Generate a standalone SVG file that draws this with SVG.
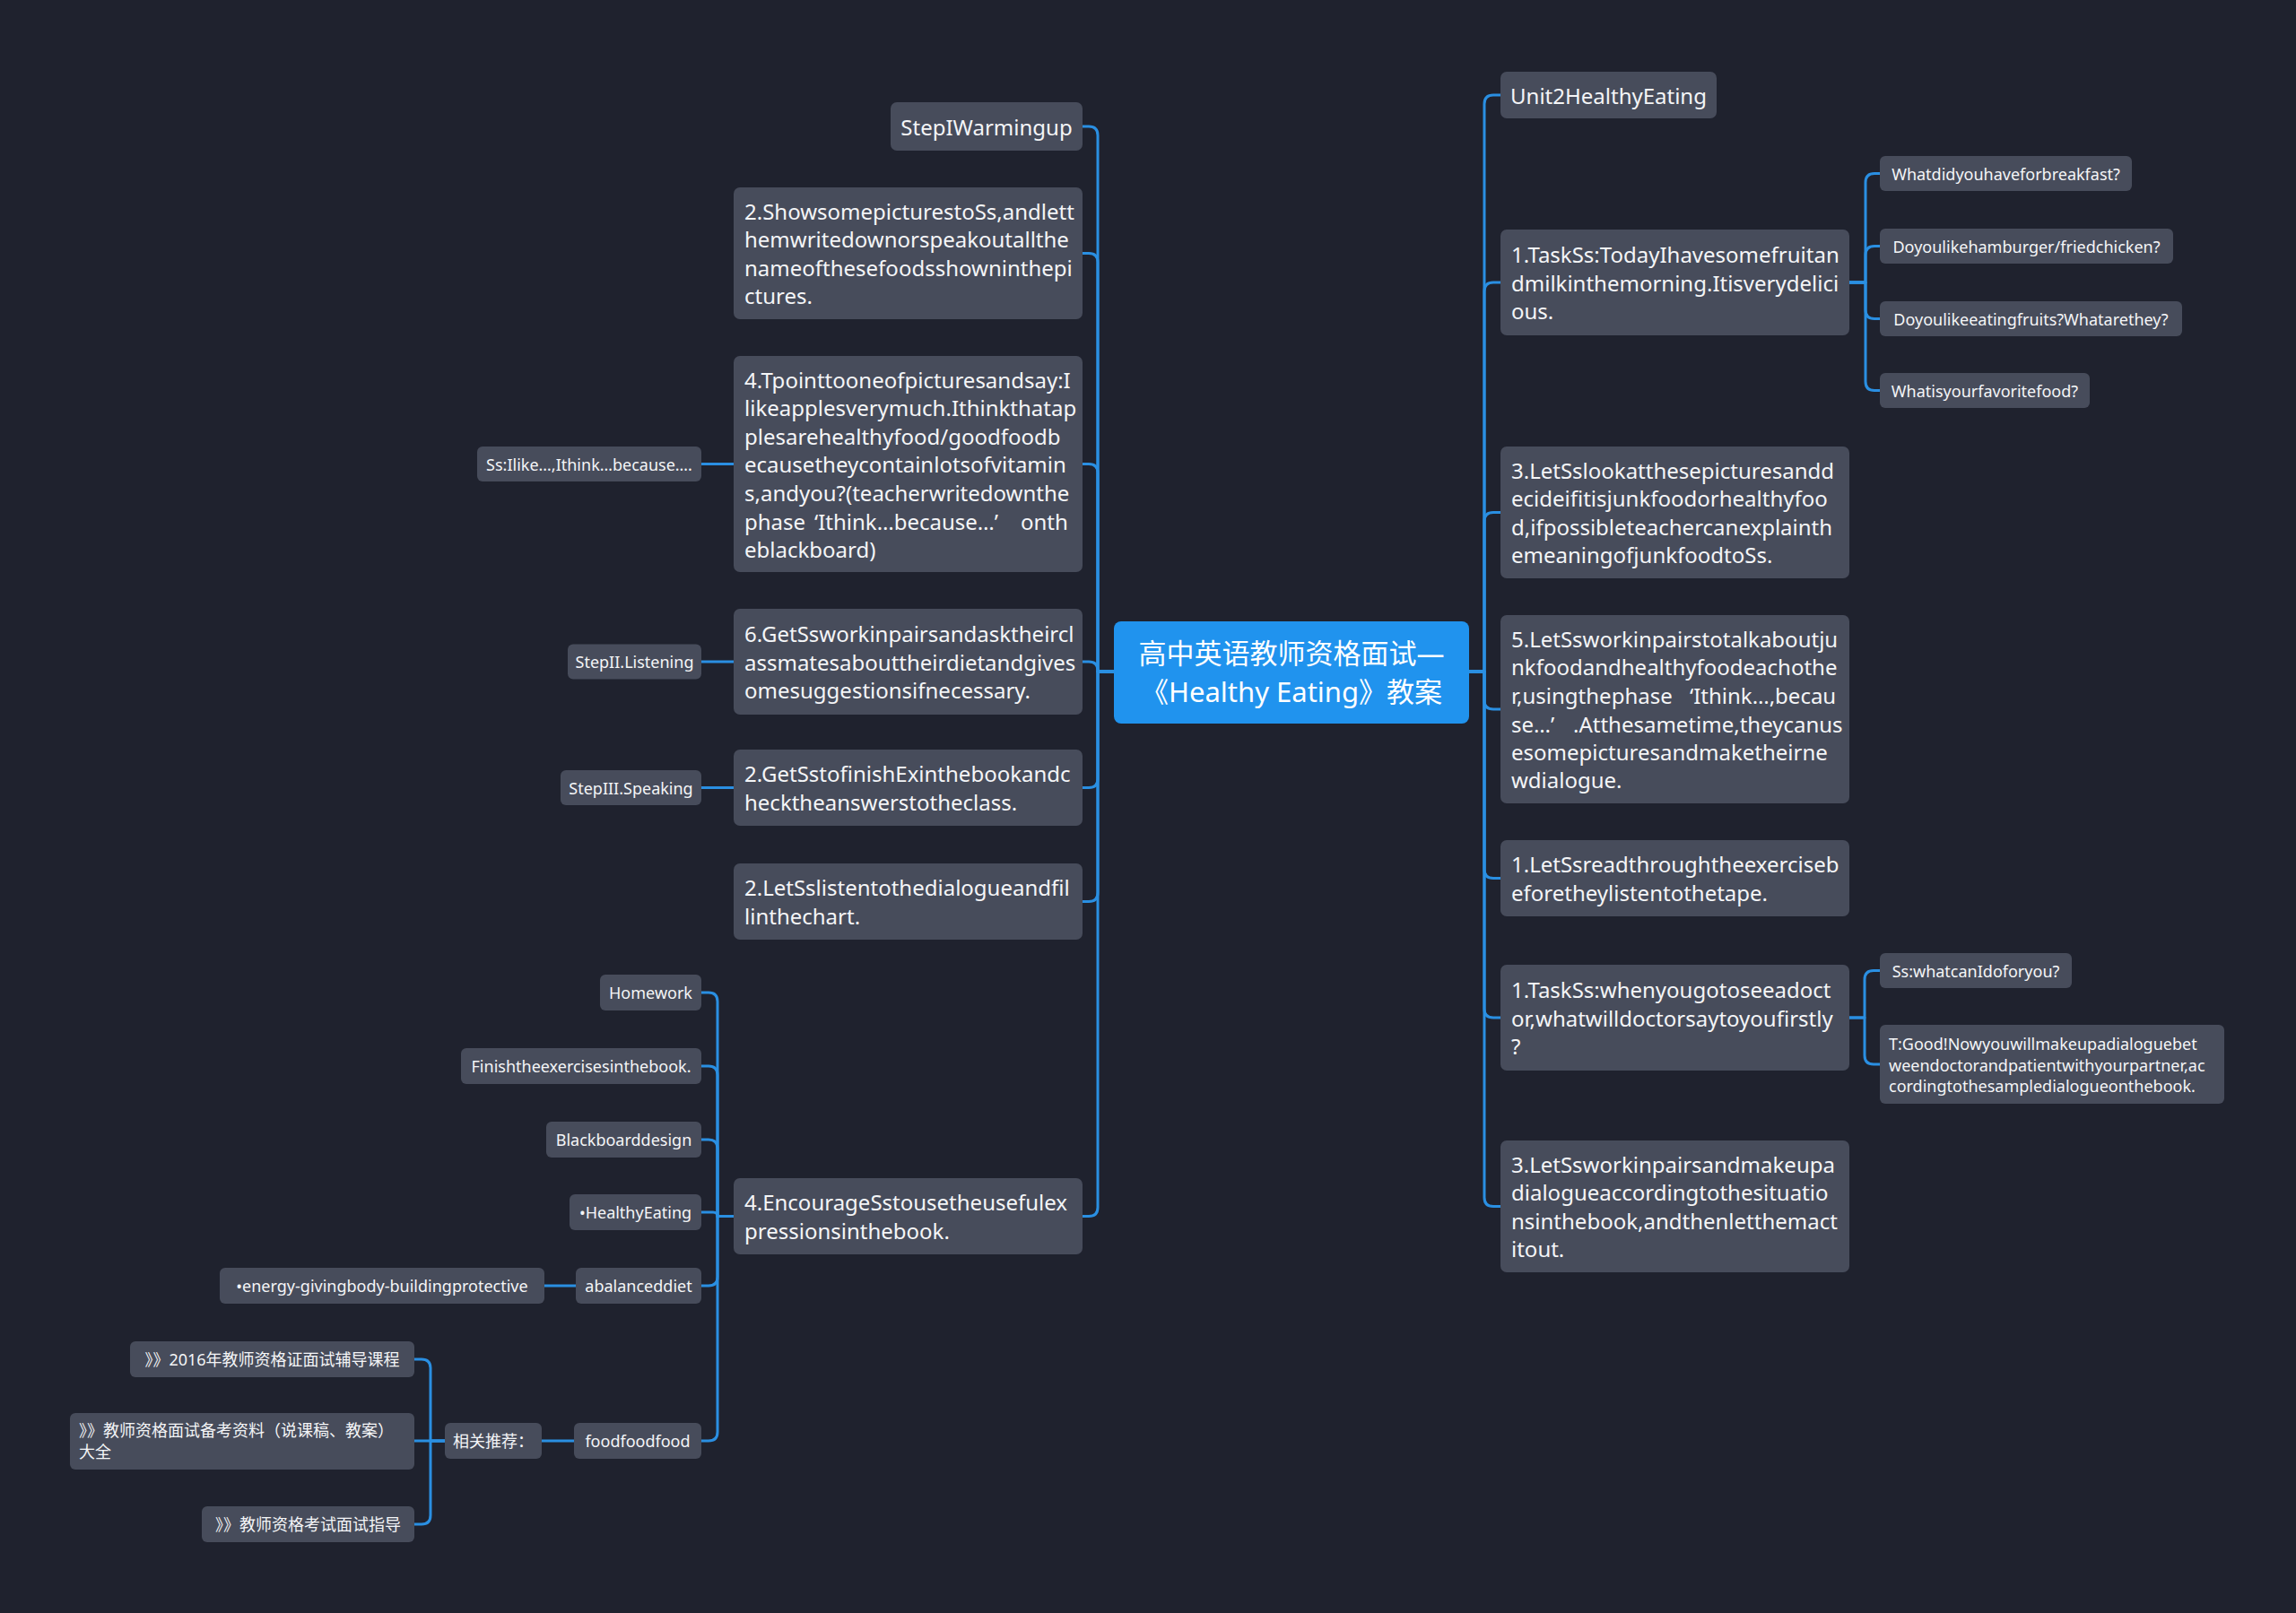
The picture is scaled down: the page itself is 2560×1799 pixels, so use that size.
<svg xmlns="http://www.w3.org/2000/svg" width="2560" height="1799" viewBox="0 0 2560 1799">
<style>
text{font-family:"Noto Sans","Noto Sans CJK SC",sans-serif;fill:#f4f5f7;dominant-baseline:central}
.n{fill:#474c5b}
.b{font-size:24px}
.s{font-size:18px}
.m{text-anchor:middle}
.c{fill:none;stroke:#2a8fe2;stroke-width:3;stroke-linecap:round;stroke-linejoin:round}
.root{fill:#2093ee}
.rt{font-size:31px;text-anchor:middle;fill:#ffffff}
</style>
<rect width="2560" height="1799" fill="#1f222e"/>
<g id="connectors">
<path class="c" d="M1242,749 H1224 V151 Q1224,141 1214,141 H1207"/>
<path class="c" d="M1242,749 H1224 V292.5 Q1224,282.5 1214,282.5 H1207"/>
<path class="c" d="M1242,749 H1224 V527.5 Q1224,517.5 1214,517.5 H1207"/>
<path class="c" d="M1242,749 H1224 V748 Q1224,738 1214,738 H1207"/>
<path class="c" d="M1242,749 H1224 V868.5 Q1224,878.5 1214,878.5 H1207"/>
<path class="c" d="M1242,749 H1224 V995.5 Q1224,1005.5 1214,1005.5 H1207"/>
<path class="c" d="M1242,749 H1224 V1346.5 Q1224,1356.5 1214,1356.5 H1207"/>
<path class="c" d="M1638,749 H1655 V116 Q1655,106 1665,106 H1673"/>
<path class="c" d="M1638,749 H1655 V325 Q1655,315 1665,315 H1673"/>
<path class="c" d="M1638,749 H1655 V581.5 Q1655,571.5 1665,571.5 H1673"/>
<path class="c" d="M1638,749 H1655 V781 Q1655,791 1665,791 H1673"/>
<path class="c" d="M1638,749 H1655 V969.5 Q1655,979.5 1665,979.5 H1673"/>
<path class="c" d="M1638,749 H1655 V1125 Q1655,1135 1665,1135 H1673"/>
<path class="c" d="M1638,749 H1655 V1335.5 Q1655,1345.5 1665,1345.5 H1673"/>
<path class="c" d="M2062,315 H2080 V203.5 Q2080,193.5 2090,193.5 H2096"/>
<path class="c" d="M2062,315 H2080 V284.5 Q2080,274.5 2090,274.5 H2096"/>
<path class="c" d="M2062,315 H2080 V345.5 Q2080,355.5 2090,355.5 H2096"/>
<path class="c" d="M2062,315 H2080 V425.5 Q2080,435.5 2090,435.5 H2096"/>
<path class="c" d="M2062,1135 H2079 V1092.5 Q2079,1082.5 2089,1082.5 H2096"/>
<path class="c" d="M2062,1135 H2079 V1177 Q2079,1187 2089,1187 H2096"/>
<path class="c" d="M818,517.5 H782"/>
<path class="c" d="M818,738 H782"/>
<path class="c" d="M818,878.5 H782"/>
<path class="c" d="M818,1356.5 H800 V1117 Q800,1107 790,1107 H782"/>
<path class="c" d="M818,1356.5 H800 V1199 Q800,1189 790,1189 H782"/>
<path class="c" d="M818,1356.5 H800 V1281 Q800,1271 790,1271 H782"/>
<path class="c" d="M818,1356.5 H800 Q800,1352 795,1352 H782"/>
<path class="c" d="M818,1356.5 H800 V1424 Q800,1434 790,1434 H782"/>
<path class="c" d="M818,1356.5 H800 V1597 Q800,1607 790,1607 H782"/>
<path class="c" d="M642,1434 H607"/>
<path class="c" d="M640,1607 H604"/>
<path class="c" d="M496,1607 H480 V1526 Q480,1516 470,1516 H462"/>
<path class="c" d="M496,1607 H462"/>
<path class="c" d="M496,1607 H480 V1690 Q480,1700 470,1700 H462"/>
</g>
<g id="root">
<rect class="root" x="1242" y="693" width="396" height="114" rx="8"/>
<text class="rt" x="1440" y="728">高中英语教师资格面试—</text>
<text class="rt" x="1440" y="771">《Healthy Eating》教案</text>
</g>
<g id="n-step1">
<rect class="n" x="993" y="114" width="214" height="54" rx="7"/>
<text class="b m" x="1100" y="141">StepIWarmingup</text>
</g>
<g id="n-show">
<rect class="n" x="818" y="209" width="389" height="147" rx="7"/>
<text class="b" x="830" y="235.25">2.ShowsomepicturestoSs,andlett</text>
<text class="b" x="830" y="266.75">hemwritedownorspeakoutallthe</text>
<text class="b" x="830" y="298.25">nameofthesefoodsshowninthepi</text>
<text class="b" x="830" y="329.75">ctures.</text>
</g>
<g id="n-tpoint">
<rect class="n" x="818" y="397" width="389" height="241" rx="7"/>
<text class="b" x="830" y="423">4.Tpointtooneofpicturesandsay:I</text>
<text class="b" x="830" y="454.5">likeapplesverymuch.Ithinkthatap</text>
<text class="b" x="830" y="486">plesarehealthyfood/goodfoodb</text>
<text class="b" x="830" y="517.5">ecausetheycontainlotsofvitamin</text>
<text class="b" x="830" y="549">s,andyou?(teacherwritedownthe</text>
<text class="b" y="580.5"><tspan x="830">phase</tspan><tspan x="908">‘Ithink…because…’</tspan><tspan x="1138">onth</tspan></text>
<text class="b" x="830" y="612">eblackboard)</text>
</g>
<g id="n-ssilike">
<rect class="n" x="532" y="498" width="250" height="39" rx="6"/>
<text class="s m" x="657" y="517.5">Ss:Ilike…,Ithink…because….</text>
</g>
<g id="n-getss">
<rect class="n" x="818" y="679" width="389" height="118" rx="7"/>
<text class="b" x="830" y="706.5">6.GetSsworkinpairsandasktheircl</text>
<text class="b" x="830" y="738">assmatesabouttheirdietandgives</text>
<text class="b" x="830" y="769.5">omesuggestionsifnecessary.</text>
</g>
<g id="n-listening">
<rect class="n" x="633" y="718.5" width="149" height="39" rx="6"/>
<text class="s m" x="707.5" y="738">StepII.Listening</text>
</g>
<g id="n-finishex">
<rect class="n" x="818" y="836" width="389" height="85" rx="7"/>
<text class="b" x="830" y="862.75">2.GetSstofinishExinthebookandc</text>
<text class="b" x="830" y="894.25">hecktheanswerstotheclass.</text>
</g>
<g id="n-speaking">
<rect class="n" x="625" y="859" width="157" height="39" rx="6"/>
<text class="s m" x="703.5" y="878.5">StepIII.Speaking</text>
</g>
<g id="n-listen">
<rect class="n" x="818" y="963" width="389" height="85" rx="7"/>
<text class="b" x="830" y="989.75">2.LetSslistentothedialogueandfil</text>
<text class="b" x="830" y="1021.25">linthechart.</text>
</g>
<g id="n-encourage">
<rect class="n" x="818" y="1314" width="389" height="85" rx="7"/>
<text class="b" x="830" y="1340.75">4.EncourageSstousetheusefulex</text>
<text class="b" x="830" y="1372.25">pressionsinthebook.</text>
</g>
<g id="n-homework">
<rect class="n" x="669" y="1087" width="113" height="40" rx="6"/>
<text class="s m" x="725.5" y="1107">Homework</text>
</g>
<g id="n-finishthe">
<rect class="n" x="514" y="1169" width="268" height="40" rx="6"/>
<text class="s m" x="648" y="1189">Finishtheexercisesinthebook.</text>
</g>
<g id="n-blackboard">
<rect class="n" x="609" y="1251" width="173" height="40" rx="6"/>
<text class="s m" x="695.5" y="1271">Blackboarddesign</text>
</g>
<g id="n-healthy">
<rect class="n" x="635" y="1332" width="147" height="40" rx="6"/>
<text class="s m" x="708.5" y="1352">•HealthyEating</text>
</g>
<g id="n-balanced">
<rect class="n" x="642" y="1414" width="140" height="40" rx="6"/>
<text class="s m" x="712" y="1434">abalanceddiet</text>
</g>
<g id="n-energy">
<rect class="n" x="245" y="1414" width="362" height="40" rx="6"/>
<text class="s m" x="426" y="1434">•energy-givingbody-buildingprotective</text>
</g>
<g id="n-food">
<rect class="n" x="640" y="1587" width="142" height="40" rx="6"/>
<text class="s m" x="711" y="1607">foodfoodfood</text>
</g>
<g id="n-related">
<rect class="n" x="496" y="1587" width="108" height="40" rx="6"/>
<text class="s m" x="550" y="1607">相关推荐：</text>
</g>
<g id="n-r2016">
<rect class="n" x="145" y="1496" width="317" height="40" rx="6"/>
<text class="s m" x="303.5" y="1516">》》2016年教师资格证面试辅导课程</text>
</g>
<g id="n-rbeikao">
<rect class="n" x="78" y="1576" width="384" height="63" rx="6"/>
<text class="s" x="88" y="1595">》》教师资格面试备考资料（说课稿、教案）</text>
<text class="s" x="88" y="1619">大全</text>
</g>
<g id="n-rzhidao">
<rect class="n" x="225" y="1680" width="237" height="40" rx="6"/>
<text class="s m" x="343.5" y="1700">》》教师资格考试面试指导</text>
</g>
<g id="n-unit2">
<rect class="n" x="1673" y="80" width="241" height="52" rx="7"/>
<text class="b m" x="1793.5" y="106">Unit2HealthyEating</text>
</g>
<g id="n-task1">
<rect class="n" x="1673" y="256" width="389" height="118" rx="7"/>
<text class="b" x="1685" y="283.5">1.TaskSs:TodayIhavesomefruitan</text>
<text class="b" x="1685" y="315">dmilkinthemorning.Itisverydelici</text>
<text class="b" x="1685" y="346.5">ous.</text>
</g>
<g id="n-q1">
<rect class="n" x="2096" y="174" width="281" height="39" rx="6"/>
<text class="s m" x="2236.5" y="193.5">Whatdidyouhaveforbreakfast?</text>
</g>
<g id="n-q2">
<rect class="n" x="2096" y="255" width="327" height="39" rx="6"/>
<text class="s m" x="2259.5" y="274.5">Doyoulikehamburger/friedchicken?</text>
</g>
<g id="n-q3">
<rect class="n" x="2096" y="336" width="337" height="39" rx="6"/>
<text class="s m" x="2264.5" y="355.5">Doyoulikeeatingfruits?Whatarethey?</text>
</g>
<g id="n-q4">
<rect class="n" x="2096" y="416" width="234" height="39" rx="6"/>
<text class="s m" x="2213" y="435.5">Whatisyourfavoritefood?</text>
</g>
<g id="n-look">
<rect class="n" x="1673" y="498" width="389" height="147" rx="7"/>
<text class="b" x="1685" y="524.25">3.LetSslookatthesepicturesandd</text>
<text class="b" x="1685" y="555.75">ecideifitisjunkfoodorhealthyfoo</text>
<text class="b" x="1685" y="587.25">d,ifpossibleteachercanexplainth</text>
<text class="b" x="1685" y="618.75">emeaningofjunkfoodtoSs.</text>
</g>
<g id="n-work5">
<rect class="n" x="1673" y="686" width="389" height="210" rx="7"/>
<text class="b" x="1685" y="712.25">5.LetSsworkinpairstotalkaboutju</text>
<text class="b" x="1685" y="743.75">nkfoodandhealthyfoodeachothe</text>
<text class="b" y="775.25"><tspan x="1685">r,usingthephase</tspan><tspan x="1884">‘Ithink…,becau</tspan></text>
<text class="b" y="806.75"><tspan x="1685">se…’</tspan><tspan x="1754">.Atthesametime,theycanus</tspan></text>
<text class="b" x="1685" y="838.25">esomepicturesandmaketheirne</text>
<text class="b" x="1685" y="869.75">wdialogue.</text>
</g>
<g id="n-read">
<rect class="n" x="1673" y="937" width="389" height="85" rx="7"/>
<text class="b" x="1685" y="963.75">1.LetSsreadthroughtheexerciseb</text>
<text class="b" x="1685" y="995.25">eforetheylistentothetape.</text>
</g>
<g id="n-task2">
<rect class="n" x="1673" y="1076" width="389" height="118" rx="7"/>
<text class="b" x="1685" y="1103.5">1.TaskSs:whenyougotoseeadoct</text>
<text class="b" x="1685" y="1135">or,whatwilldoctorsaytoyoufirstly</text>
<text class="b" x="1685" y="1166.5">?</text>
</g>
<g id="n-sswhat">
<rect class="n" x="2096" y="1063" width="214" height="39" rx="6"/>
<text class="s m" x="2203" y="1082.5">Ss:whatcanIdoforyou?</text>
</g>
<g id="n-tgood">
<rect class="n" x="2096" y="1143" width="384" height="88" rx="6"/>
<text class="s" x="2106" y="1164">T:Good!Nowyouwillmakeupadialoguebet</text>
<text class="s" x="2106" y="1187.5">weendoctorandpatientwithyourpartner,ac</text>
<text class="s" x="2106" y="1211">cordingtothesampledialogueonthebook.</text>
</g>
<g id="n-work3">
<rect class="n" x="1673" y="1272" width="389" height="147" rx="7"/>
<text class="b" x="1685" y="1298.25">3.LetSsworkinpairsandmakeupa</text>
<text class="b" x="1685" y="1329.75">dialogueaccordingtothesituatio</text>
<text class="b" x="1685" y="1361.25">nsinthebook,andthenletthemact</text>
<text class="b" x="1685" y="1392.75">itout.</text>
</g>
</svg>
